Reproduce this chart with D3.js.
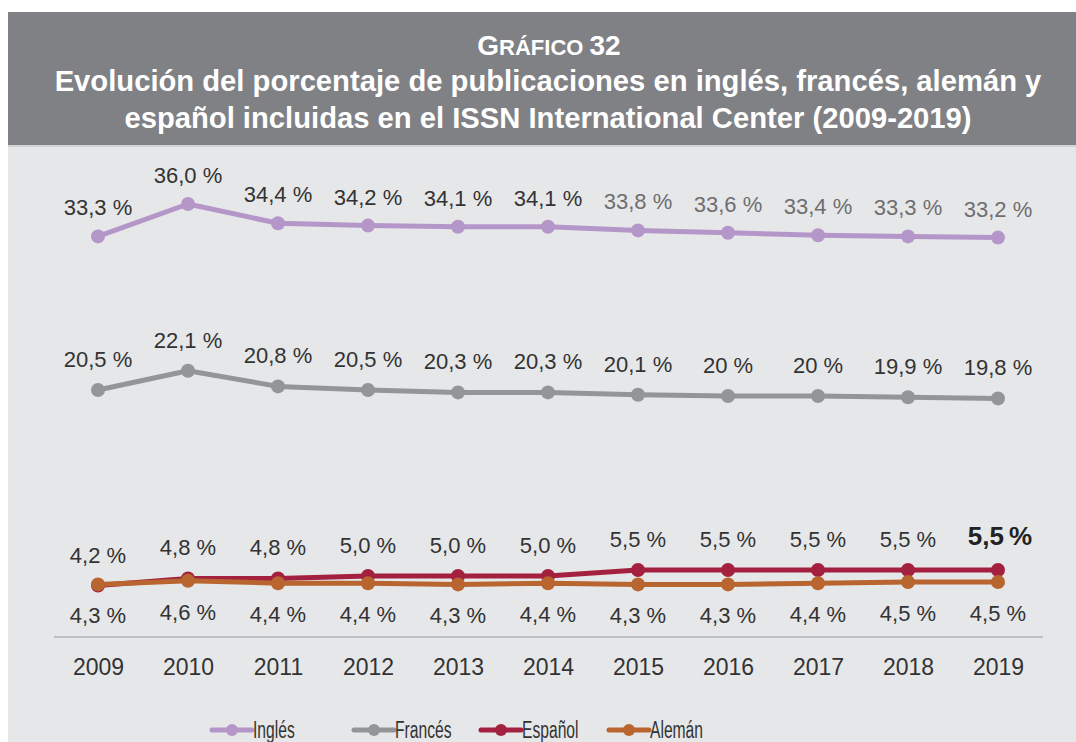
<!DOCTYPE html>
<html>
<head>
<meta charset="utf-8">
<script src="https://cdn.jsdelivr.net/npm/d3@7"></script>
<style>
html,body{margin:0;padding:0;background:#fff;}
svg{display:block;}
</style>
</head>
<body>
<svg id="chart" width="1076" height="742"></svg>
<script>
const years = [2009,2010,2011,2012,2013,2014,2015,2016,2017,2018,2019];
const ingles  = [33.3,36.0,34.4,34.2,34.1,34.1,33.8,33.6,33.4,33.3,33.2];
const frances = [20.5,22.1,20.8,20.5,20.3,20.3,20.1,20.0,20.0,19.9,19.8];
const espanol = [4.2,4.8,4.8,5.0,5.0,5.0,5.5,5.5,5.5,5.5,5.5];
const aleman  = [4.3,4.6,4.4,4.4,4.3,4.4,4.3,4.3,4.4,4.5,4.5];
const seriesNames = ["Inglés","Francés","Español","Alemán"];
const seriesColors = ["#b596c9","#949597","#a3203f","#b9652f"];
const titleLines = ["Evolución del porcentaje de publicaciones en inglés, francés, alemán y","español incluidas en el ISSN International Center (2009-2019)"];

const fmt = v => v.toFixed(1).replace(".", ",") + " %";
const fmtTrim = v => (Number.isInteger(v) ? String(v) : v.toFixed(1).replace(".", ",")) + " %";

const svg = d3.select("#chart");
const FONT = "'Liberation Sans', Arial, Helvetica, sans-serif";

// header band
svg.append("rect").attr("x",8).attr("y",12).attr("width",1068).attr("height",133).attr("fill","#808185");
svg.append("rect").attr("x",8).attr("y",145).attr("width",1068).attr("height",2).attr("fill","#d2d3d5");
svg.append("rect").attr("x",8).attr("y",147).attr("width",1068).attr("height",595).attr("fill","#e6e7e9");

// title
const t0 = svg.append("text").attr("x",549).attr("y",55).attr("text-anchor","middle")
  .attr("fill","#fff").attr("font-family",FONT).attr("font-weight","bold");
t0.append("tspan").attr("font-size",28).text("G");
t0.append("tspan").attr("font-size",22).text("RÁFICO ");
t0.append("tspan").attr("font-size",28).text("32");

const tl = svg.selectAll("text.tl").data(titleLines).enter().append("text").attr("class","tl")
  .attr("x",548).attr("y",(d,i)=>91+i*37).attr("text-anchor","middle")
  .attr("fill","#fff").attr("font-family",FONT).attr("font-weight","bold").attr("font-size",26)
  .text(d=>d);
const w0 = tl.node().getComputedTextLength();
tl.attr("font-size",26*987/w0);

const x = d3.scalePoint().domain(years).range([98,998]);
const y = d3.scaleLinear().domain([0,40]).range([636,156]);

// axis
const xAxis = d3.axisBottom(x).tickSize(0).tickPadding(22);
const ax = svg.append("g").attr("transform","translate(0,637)").call(xAxis);
ax.select(".domain").remove();
ax.append("line").attr("x1",54).attr("x2",1043).attr("y1",0).attr("y2",0).attr("stroke","#bebfc1").attr("stroke-width",2);
ax.selectAll(".tick text").attr("font-family",FONT).attr("font-size",23).attr("fill","#333");

const allSeries = [ingles, frances, espanol, aleman];
const line = d3.line().x((d,i)=>x(years[i])).y(d=>y(d));

allSeries.forEach((vals,si)=>{
  const g = svg.append("g");
  g.append("path").datum(vals).attr("d",line).attr("fill","none")
    .attr("stroke",seriesColors[si]).attr("stroke-width",5).attr("stroke-linejoin","round");
  g.selectAll("circle").data(vals).enter().append("circle")
    .attr("cx",(d,i)=>x(years[i])).attr("cy",d=>y(d)).attr("r",7).attr("fill",seriesColors[si]);
});

// labels
function labels(vals, dy, colorFn, cls, f){
  svg.selectAll("text."+cls).data(vals).enter().append("text").attr("class",cls)
    .attr("x",(d,i)=>x(years[i])).attr("y",d=>y(d)+dy)
    .attr("text-anchor","middle").attr("font-family",FONT).attr("font-size",22)
    .attr("fill",(d,i)=>colorFn(i))
    .text(d=>f(d));
}
labels(ingles, -21, i=> i>=6 ? "#6e6e70" : "#333", "li", fmt);
labels(frances, -23, i=>"#333", "lf", fmtTrim);
labels(espanol.slice(0,10), -23, i=>"#333", "le", fmt);
labels(aleman, 39, i=>"#333", "la", fmt);
// highlighted last español value
svg.append("text").attr("x",x(years[10])+2).attr("y",y(espanol[10])-25)
  .attr("text-anchor","middle").attr("font-family",FONT).attr("font-size",26).attr("font-weight","bold")
  .attr("fill","#222").text(fmt(espanol[10]).replace(" %","\u2009%"));

// legend
const legX = [212,354,481,609];
seriesNames.forEach((n,i)=>{
  const g = svg.append("g").attr("transform",`translate(${legX[i]},730)`);
  g.append("line").attr("x1",0).attr("x2",40).attr("y1",0).attr("y2",0).attr("stroke",seriesColors[i]).attr("stroke-width",5).attr("stroke-linecap","round");
  g.append("circle").attr("cx",20).attr("cy",0).attr("r",6).attr("fill",seriesColors[i]);
  g.append("text").attr("transform","translate(41,8) scale(0.68,1)").attr("font-family",FONT).attr("font-size",23).attr("fill","#333").text(n);
});
</script>
</body>
</html>
